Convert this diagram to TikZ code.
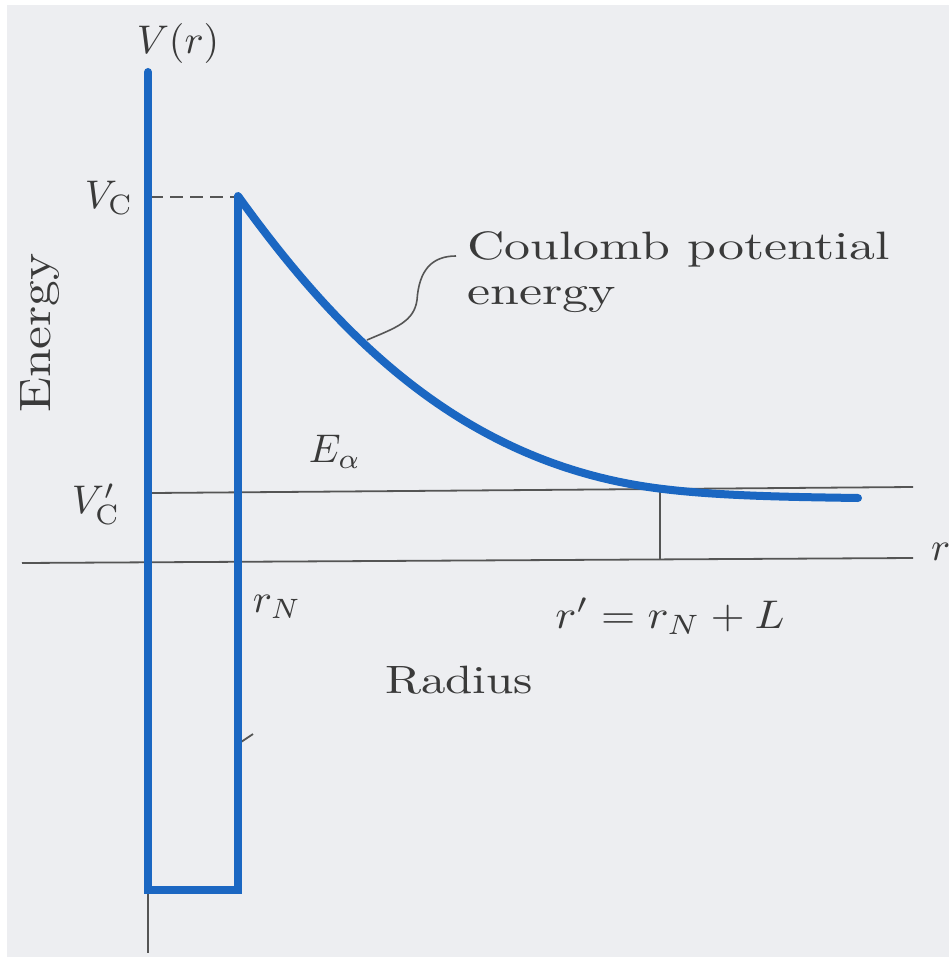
\documentclass[tikz,border=0pt]{standalone}
\usepackage{graphicx}
\begin{document}
\begin{tikzpicture}[x=1pt,y=-1pt]
\definecolor{bg}{HTML}{EDEEF1}
\definecolor{wall}{HTML}{1B67C2}
\definecolor{ink}{HTML}{3A3A3A}
\definecolor{axisc}{HTML}{555555}
\tikzset{
  wallline/.style={draw=wall, line width=8pt, line join=miter},
  curveline/.style={draw=wall, line width=8pt, line cap=round, line join=round},
  thinline/.style={draw=axisc, line width=1.8pt},
  leaderline/.style={draw=axisc, line width=1.6pt},
  dashline/.style={draw=axisc, line width=1.8pt, dash pattern=on 13pt off 7pt},
  lbl/.style={text=ink, inner sep=0pt},
}
\useasboundingbox (0,0) rectangle (949,957);
\fill[white] (0,0) rectangle (949,957);
\fill[bg] (7,5) rectangle (949,957);

% key points
\coordinate (top) at (148,72);
\coordinate (bl) at (148,890);
\coordinate (br) at (238,890);
\coordinate (peak) at (238,195);
\coordinate (vc) at (150,197);
\coordinate (vcpk) at (238,197);
\coordinate (ea0) at (152,493);
\coordinate (ea1) at (913,487);
\coordinate (ax0) at (22,563);
\coordinate (ax1) at (913,558);
\coordinate (rp0) at (660,488);
\coordinate (rp1) at (660,559);
\coordinate (low0) at (148,890);
\coordinate (low1) at (148,953);
\coordinate (tick0) at (241,742);
\coordinate (tick1) at (253,734);
\coordinate (cross) at (663,489);
\coordinate (cend) at (858,498);
\coordinate (leadstart) at (367,340);
\coordinate (leadend) at (456,256);

% thin lines
\draw[thinline] (ax0) -- (ax1);
\draw[thinline] (ea0) -- (ea1);
\draw[thinline] (rp0) -- (rp1);
\draw[thinline] (low0) -- (low1);
\draw[dashline] (vc) -- (vcpk);
\draw[thinline] (tick0) -- (tick1);

% potential well
\draw[wallline] (top) -- (bl) -- (br) -- (peak);
\draw[wallline, line cap=round] (top) -- ++(0,4);
\draw[curveline] (238,196) .. controls (338,335) and (463,465) .. (cross)
  .. controls (720,496) and (790,497) .. (cend);

% leader
\draw[leaderline] (leadstart) .. controls (395,328) and (414,322) .. (417,300)
  .. controls (419,270) and (432,256) .. (leadend);

% labels
\node[lbl] (Vr) at (178,44) {\scalebox{4}{$V(r)$}};
\node[lbl] (VC) at (109,198) {\scalebox{4}{$V_{\mathrm{C}}$}};
\node[lbl] (VCp) at (96,504) {\scalebox{4}{$V'_{\mathrm{C}}$}};
\node[lbl] (Ea) at (335,452) {\scalebox{4}{$E_\alpha$}};
\node[lbl] (rN) at (277,607) {\scalebox{4}{$r_N$}};
\node[lbl, anchor=base] (rprime) at (670,628) {\scalebox{4.4}[4]{$r' = r_N + L$}};
\node[lbl, anchor=base west] (rax) at (931,560) {\scalebox{4}{$r$}};
\node[lbl, anchor=base] (Radius) at (459,693) {\scalebox{4.9}[3.95]{Radius}};
\node[lbl, rotate=90] (Energy) at (40,333) {\scalebox{5.15}[4.4]{Energy}};
\node[lbl, anchor=base west] (Coul) at (467,260) {\scalebox{5.19}[3.96]{Coulomb potential}};
\node[lbl, anchor=base west] (energy) at (467,305) {\scalebox{5.19}[3.96]{energy}};
\end{tikzpicture}
\end{document}
